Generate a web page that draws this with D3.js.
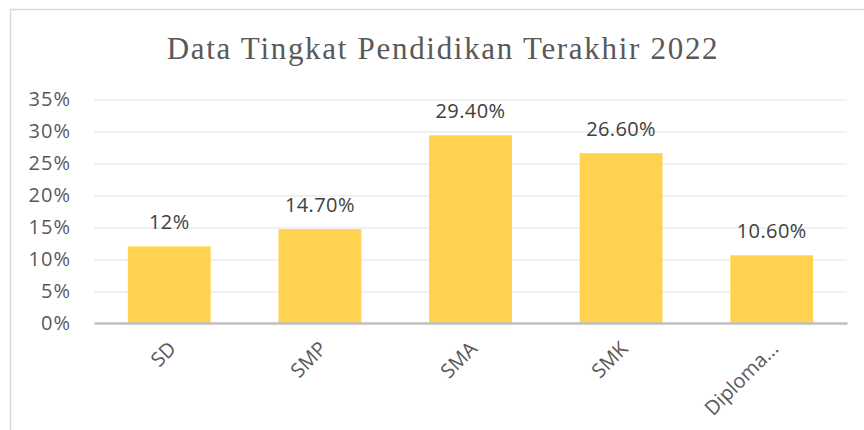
<!DOCTYPE html>
<html lang="id">
<head>
    <meta charset="UTF-8">
    <script src="https://d3js.org/d3.v7.min.js"></script>
    <title>Data Tingkat Pendidikan Terakhir 2022</title>
    <style>
        body { margin: 0; background: #fff; }
        #chart { width: 864px; height: 430px; }
    </style>
</head>
<body>
    <div id="chart"></div>

    <script>
        // data
        let categories = ["SD", "SMP", "SMA", "SMK", "Diploma..."];
        let values = [12, 14.7, 29.4, 26.6, 10.6];
        let value_labels = ["12%", "14.70%", "29.40%", "26.60%", "10.60%"];
        let y_ticks = [0, 5, 10, 15, 20, 25, 30, 35];

        let win_width = 864, win_height = 430;
        let margin = {top: 99.5, right: 17, bottom: 107, left: 94};
        let graph_width = win_width - margin.left - margin.right;
        let graph_height = win_height - margin.top - margin.bottom;

        let svg = d3.select("#chart")
            .append("svg")
            .attr("width", win_width)
            .attr("height", win_height);

        // chart frame (only left and top edges are visible)
        svg.append("path")
            .attr("d", "M10.5," + win_height + "V9.5H" + win_width)
            .attr("fill", "none")
            .attr("stroke", "#d9d9d9")
            .attr("stroke-width", 1.5);

        // title
        svg.append("text")
            .attr("x", 443)
            .attr("y", 59)
            .attr("text-anchor", "middle")
            .style("font-family", "'Liberation Serif', 'Times New Roman', serif")
            .style("font-size", "31px")
            .style("letter-spacing", "1.7px")
            .style("fill", "#595959")
            .text("Data Tingkat Pendidikan Terakhir 2022");

        let g = svg.append("g")
            .attr("transform", "translate(" + margin.left + "," + margin.top + ")");

        let x = d3.scaleBand()
            .domain(categories)
            .range([0, graph_width])
            .paddingInner(0.45)
            .paddingOuter(0.225);

        let y = d3.scaleLinear()
            .domain([0, 35])
            .range([graph_height, 0]);

        // gridlines
        g.append("g")
            .selectAll("line")
            .data(y_ticks.filter(function(d) { return d > 0; }))
            .enter()
            .append("line")
            .attr("x1", 0)
            .attr("x2", graph_width)
            .attr("y1", function(d) { return Math.round(y(d)) + 0.5; })
            .attr("y2", function(d) { return Math.round(y(d)) + 0.5; })
            .attr("stroke", "#ebebeb")
            .attr("stroke-width", 1.5);

        // y axis labels
        let y_axis = g.append("g")
            .call(d3.axisLeft(y).tickValues(y_ticks).tickSize(0).tickPadding(23)
                .tickFormat(function(d) { return d + "%"; }));
        y_axis.select(".domain").remove();
        y_axis.selectAll("text")
            .style("font-family", "'Open Sans', sans-serif")
            .style("font-size", "20px")
            .style("letter-spacing", "1px")
            .style("fill", "#595959");

        // bars
        g.selectAll("rect.bar")
            .data(values)
            .enter()
            .append("rect")
            .attr("class", "bar")
            .attr("x", function(d, i) { return x(categories[i]); })
            .attr("y", function(d) { return y(d); })
            .attr("width", x.bandwidth())
            .attr("height", function(d) { return graph_height - y(d); })
            .attr("fill", "#ffd34f");

        // value labels
        g.selectAll("text.val")
            .data(values)
            .enter()
            .append("text")
            .attr("class", "val")
            .attr("x", function(d, i) { return x(categories[i]) + x.bandwidth() / 2; })
            .attr("y", function(d) { return y(d) - 17; })
            .attr("text-anchor", "middle")
            .style("font-family", "'Open Sans', sans-serif")
            .style("font-size", "20px")
            .style("letter-spacing", "0.4px")
            .style("fill", "#404040")
            .text(function(d, i) { return value_labels[i]; });

        // x axis
        let x_axis = g.append("g")
            .attr("transform", "translate(0," + graph_height + ")")
            .call(d3.axisBottom(x).tickSize(0).tickPadding(0));
        x_axis.select(".domain")
            .attr("stroke", "#bfbfbf")
            .attr("stroke-width", 2.5);
        x_axis.selectAll("text")
            .attr("text-anchor", "end")
            .attr("dy", 0)
            .attr("transform", "translate(8,27) rotate(-45)")
            .style("font-family", "'Open Sans', sans-serif")
            .style("font-size", "20px")
            .style("fill", "#595959");
    </script>
</body>
</html>
